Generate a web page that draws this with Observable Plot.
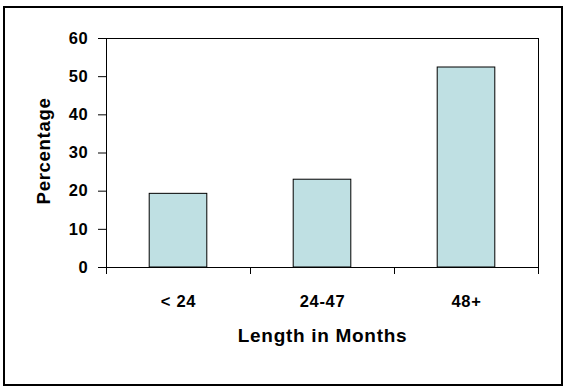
<!DOCTYPE html>
<html>
<head>
<meta charset="utf-8">
<script src="https://cdn.jsdelivr.net/npm/d3@7"></script>
<script src="https://cdn.jsdelivr.net/npm/@observablehq/plot@0.6"></script>
<style>
  html, body { margin: 0; padding: 0; background: #fff; }
  #wrap { position: relative; width: 568px; height: 392px; }
  #border { position: absolute; left: 3px; top: 6px; width: 560px; height: 380px; border: 2px solid #000; box-sizing: border-box; pointer-events: none; }
  #chart { position: absolute; left: 0; top: 0; }
</style>
</head>
<body>
<div id="wrap">
  <div id="chart"></div>
  <div id="border"></div>
</div>
<script>
const categories = ["< 24", "24-47", "48+"];
const percentages = [19.3, 23.0, 52.4];
const yTicks = [0, 10, 20, 30, 40, 50, 60];
const xLabel = "Length in Months";
const yLabel = "Percentage";

const data = categories.map((c, i) => ({i, category: c, value: percentages[i]}));
const boundaries = d3.range(categories.length + 1).map(k => k - 0.5);
const halfBar = 0.2;

const chart = Plot.plot({
  width: 568,
  height: 392,
  marginLeft: 106,
  marginRight: 30,
  marginTop: 38,
  marginBottom: 125,
  style: {fontFamily: "'Liberation Sans', Arial, sans-serif", fontSize: "16.5px", fontWeight: "bold", color: "#000", background: "transparent", letterSpacing: "0.7px"},
  x: {type: "linear", domain: [-0.5, categories.length - 0.5], label: null},
  y: {domain: [0, 60], label: null},
  marks: [
    Plot.rectY(data, {x1: d => d.i - halfBar, x2: d => d.i + halfBar, y: "value", fill: "#bfe0e3", stroke: "#000", strokeWidth: 1}),
    Plot.frame({stroke: "#000", strokeWidth: 1}),
    Plot.axisY({ticks: yTicks, tickSize: 8, tickPadding: 10, tickFormat: d => String(d), label: null, fontSize: 16.5, fontWeight: "bold", stroke: "#000", strokeOpacity: 1}),
    Plot.axisX({ticks: boundaries, tickSize: 7, tickFormat: () => "", label: null, stroke: "#000", strokeOpacity: 1}),
    Plot.axisX({ticks: d3.range(categories.length), tickSize: 0, tickPadding: 28, tickFormat: i => categories[i], label: null, fontSize: 16.5, fontWeight: "bold"}),
    Plot.text([xLabel], {text: d => d, frameAnchor: "bottom", dy: 61, lineAnchor: "top", textAnchor: "middle", fontSize: 19, fontWeight: "bold", fill: "#000"}),
    Plot.text([yLabel], {text: d => d, frameAnchor: "left", textAnchor: "middle", rotate: -90, dx: -62, dy: -2, fontSize: 18.5, fontWeight: "bold", fill: "#000"})
  ]
});
document.getElementById("chart").appendChild(chart);
</script>
</body>
</html>
